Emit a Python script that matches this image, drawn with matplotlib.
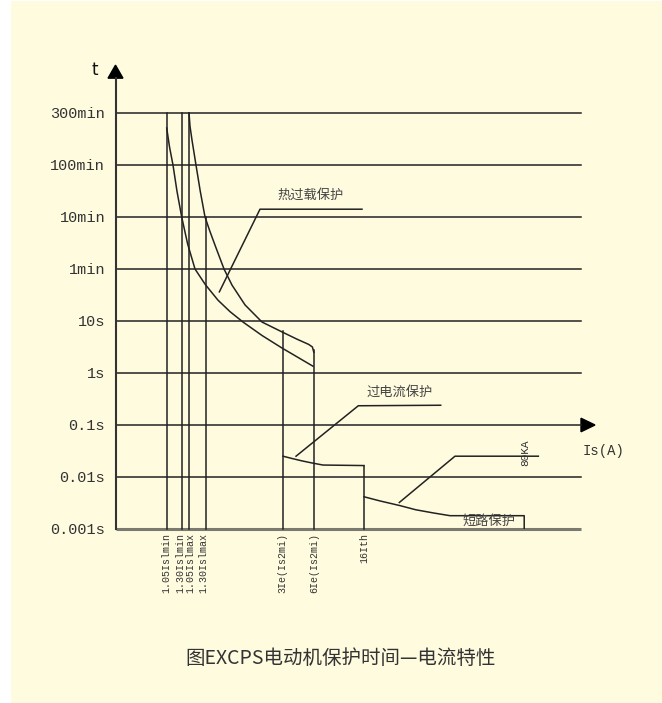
import matplotlib.pyplot as plt
from matplotlib.patches import Rectangle

# time levels, drawn evenly spaced (schematic), bottom to top
time_labels = ["0.001s", "0.01s", "0.1s", "1s", "10s", "1min", "10min", "100min", "300min"]

# schematic current positions (0..100 along Is axis)
vline_x = [11.0, 14.22, 15.79, 19.38, 35.92, 42.64, 53.38]
vline_top = [8.0, 8.0, 8.0, 6.0, 3.80, 3.44, 1.22]
vline_names = ["1.05Islmin", "1.30Islmin", "1.05Islmax", "1.30Islmax",
               "3Ie(Is2mi)", "6Ie(Is2mi)", "16Ith"]
vlabel_x = [10.9, 13.85, 16.1, 18.9, 35.92, 42.64, 53.38]

# thermal overload curves
th_low_x = [11.0, 11.6, 12.35, 13.2, 14.22, 15.5, 17.08, 19.3, 22.02, 24.6, 27.39, 31.5, 35.77, 39.2, 42.43]
th_low_y = [7.71, 7.35, 7.0, 6.5, 6.0, 5.48, 5.0, 4.7, 4.40, 4.18, 3.98, 3.72, 3.48, 3.30, 3.13]
th_high_x = [15.79, 16.0, 16.43, 17.29, 18.2, 19.23, 20.3, 21.37, 23.31, 25.03, 27.82, 31.47, 35.77, 39.0, 41.5, 42.3, 42.6]
th_high_y = [8.0, 7.75, 7.48, 7.0, 6.5, 6.0, 5.72, 5.46, 5.0, 4.69, 4.31, 3.98, 3.79, 3.65, 3.55, 3.50, 3.40]

# overcurrent
oc_x = [35.98, 37.92, 40.06, 42.2, 44.57, 53.38]
oc_y = [1.40, 1.356, 1.31, 1.27, 1.23, 1.22]

# short circuit
sc_x = [53.38, 56.8, 61.1, 64.5, 68.2, 71.86, 87.8, 87.8]
sc_y = [0.62, 0.54, 0.45, 0.37, 0.31, 0.256, 0.256, 0.0]

# leader lines
lead_th_x = [22.31, 31.04, 52.95]
lead_th_y = [4.56, 6.15, 6.15]
lead_oc_x = [38.78, 52.16, 69.86]
lead_oc_y = [1.40, 2.37, 2.38]
lead_sc_x = [60.97, 72.93, 90.83]
lead_sc_y = [0.51, 1.40, 1.40]

W, H = 662, 703
fig = plt.figure(figsize=(W / 100, H / 100), dpi=100)
fig.patch.set_facecolor("white")
fig.patches.append(Rectangle((11 / W, 0), 1 - 11 / W, 1 - 1 / H, transform=fig.transFigure,
                             facecolor="#FFFBDF", edgecolor="none", zorder=-10))

ax = fig.add_axes([115.5 / W, (H - 529) / H, (581 - 115.5) / W, (529 - 113) / H])
ax.set_facecolor("none")
ax.set_xlim(0, 100)
ax.set_ylim(0, 8)
for s in ax.spines.values():
    s.set_visible(False)
ax.set_xticks([])
ax.set_yticks(range(len(time_labels)))
ax.set_yticklabels(time_labels, family="Liberation Mono", fontsize=11, color="#333333")
ax.tick_params(axis="y", length=0, pad=7.5)

lc = "#222222"
lw = 1.1

# horizontal grid lines
for i in range(1, len(time_labels)):
    ax.plot([0, 100], [i, i], color=lc, lw=lw, clip_on=False)
ax.plot([0, 100], [0, 0], color="#7a7a70", lw=2.2, clip_on=False, solid_capstyle="butt")

# axes with arrows
ax.plot([0, 0], [0, 8.67], color="#333333", lw=1.5, clip_on=False)
ax.fill([-1.6, 1.6, 0], [8.67, 8.67, 8.92], color="black", clip_on=False)
ax.fill([100, 100, 103.0], [1.87, 2.13, 2.0], color="black", clip_on=False)
ax.text(-4.4, 8.83, "t", family="DejaVu Sans", fontsize=12, ha="center", va="center", color="#111111")
ax.text(100.3, 1.5, "Is(A)", family="Liberation Mono", fontsize=10, ha="left", va="center", color="#333333")

# vertical current lines and their labels
for x, top in zip(vline_x, vline_top):
    ax.plot([x, x], [0, top], color=lc, lw=lw, clip_on=False)
for x, name in zip(vlabel_x, vline_names):
    ax.text(x, -0.07, name, rotation=90, ha="center", va="top",
            family="Liberation Mono", fontsize=7.2, color="#333333")

ax.plot(th_low_x, th_low_y, color=lc, lw=lw, clip_on=False)
ax.plot(th_high_x, th_high_y, color=lc, lw=lw, clip_on=False)
ax.plot(oc_x, oc_y, color=lc, lw=lw)
ax.plot(sc_x, sc_y, color=lc, lw=lw)

for xs, ys in [(lead_th_x, lead_th_y), (lead_oc_x, lead_oc_y), (lead_sc_x, lead_sc_y)]:
    ax.plot(xs, ys, color=lc, lw=lw)

cjk = ["Noto Sans CJK SC", "DejaVu Sans"]
ax.text(41.95, 6.42, "热过载保护", family=cjk, fontsize=9.5, ha="center", va="center", color="#444444")
ax.text(61.12, 2.62, "过电流保护", family=cjk, fontsize=9.5, ha="center", va="center", color="#444444")
ax.text(80.2, 0.14, "短路保护", family=cjk, fontsize=9.5, ha="center", va="center", color="#444444")
ax.text(87.97, 1.46, "80KA", rotation=90, family="Liberation Mono", fontsize=8,
        ha="center", va="center", color="#333333")

fig.text(341 / W, 1 - 658 / H, "图EXCPS电动机保护时间—电流特性", family=cjk, fontsize=14,
         ha="center", va="center", color="#333333")

fig.savefig("out.png", dpi=100, facecolor=fig.get_facecolor())
